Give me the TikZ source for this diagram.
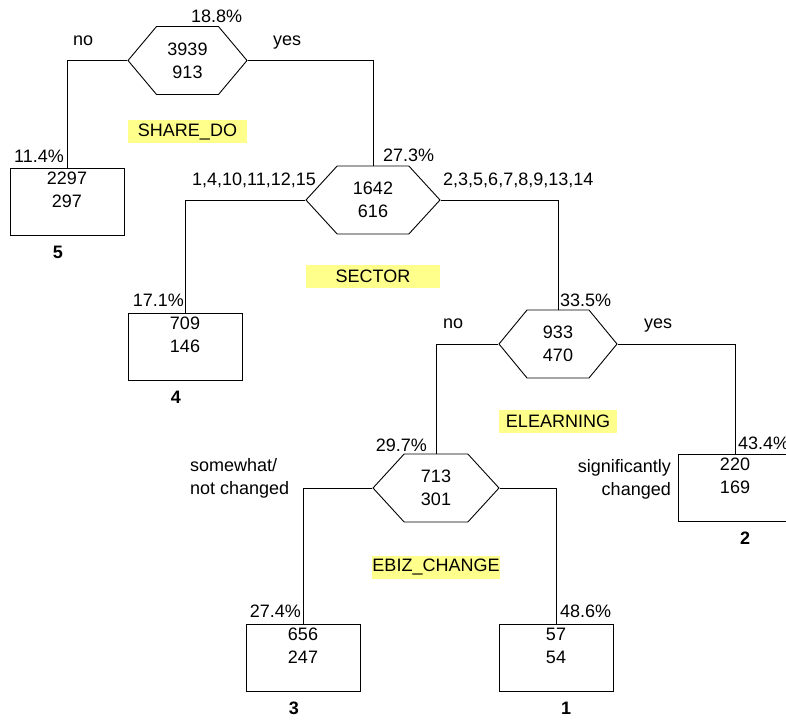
\documentclass[tikz,border=0pt]{standalone}
\usepackage{fontspec}
\setmainfont{Liberation Sans}
\usetikzlibrary{positioning,shapes.symbols}
\definecolor{varfill}{RGB}{255,255,140}

\begin{document}
\begin{tikzpicture}[
  x=1bp, y=-1bp,
  every node/.style={font=\fontsize{18bp}{23bp}\selectfont},
  split/.style={draw, signal, signal to=west and east, signal pointer angle=98, minimum height=68bp, inner sep=0pt, align=center, line width=0.9bp},
  leaf/.style={draw, rectangle, minimum width=114bp, minimum height=67bp, inner sep=0pt, align=center, line width=0.9bp},
  leafno/.style={font=\fontsize{18bp}{23bp}\selectfont\bfseries, inner sep=0pt},
  var/.style={fill=varfill, minimum height=23bp, inner sep=0pt},
  pct/.style={inner sep=0pt},
  branch/.style={inner sep=0pt},
  link/.style={line width=0.9bp}
]
\useasboundingbox (0,0) rectangle (786,720);

% splits
\node[split, minimum width=119bp, signal pointer angle=100] (share) at (187.5,60.5) {3939\\913};
\node[split, minimum width=134bp, signal pointer angle=95] (sector) at (373,200) {1642\\616};
\node[split, minimum width=118bp, signal pointer angle=101] (elearn) at (558,344) {933\\470};
\node[split, minimum width=126bp, signal pointer angle=95] (ebiz) at (436,488) {713\\301};

% split variables
\node[var, minimum width=119bp, below=25bp of share] (vshare) {SHARE\_DO};
\node[var, minimum width=134bp, below=30bp of sector] (vsector) {SECTOR};
\node[var, minimum width=118bp, below=31bp of elearn] (velearn) {ELEARNING};
\node[var, minimum width=126bp, below=33bp of ebiz] (vebiz) {EBIZ\_CHANGE};

% leaves
\node[leaf] (b5) at (67,201.5) {2297\\297\\\mbox{}};
\node[leaf] (b4) at (185,346.5) {709\\146\\\mbox{}};
\node[leaf] (b2) at (735,487.5) {220\\169\\\mbox{}};
\node[leaf] (b3) at (303,657.5) {656\\247\\\mbox{}};
\node[leaf] (b1) at (556,657.5) {57\\54\\\mbox{}};

\node[leafno, below=10bp of b5, xshift=-9bp] (n5) {5};
\node[leafno, below=10bp of b4, xshift=-9bp] (n4) {4};
\node[leafno, below=10bp of b2, xshift=10bp] (n2) {2};
\node[leafno, below=10bp of b3, xshift=-9bp] (n3) {3};
\node[leafno, below=10bp of b1, xshift=10bp] (n1) {1};

% connectors
\draw[link] (share.west) -| (b5.north);
\draw[link] (share.east) -| (sector.north);
\draw[link] (sector.west) -| (b4.north);
\draw[link] (sector.east) -| (elearn.north);
\draw[link] (elearn.west) -| (ebiz.north);
\draw[link] (elearn.east) -| (b2.north);
\draw[link] (ebiz.west) -| (b3.north);
\draw[link] (ebiz.east) -| (b1.north);

% percentages
\node[pct, anchor=base west] (pshare) at (191,23) {18.8\%};
\node[pct, anchor=base east] (p5) at (64,162) {11.4\%};
\node[pct, anchor=base west] (psector) at (383,161) {27.3\%};
\node[pct, anchor=base east] (p4) at (184,306) {17.1\%};
\node[pct, anchor=base west] (pelearn) at (560,306) {33.5\%};
\node[pct, anchor=base east] (pebiz) at (427,451) {29.7\%};
\node[pct, anchor=base west] (p2) at (738,449) {43.4\%};
\node[pct, anchor=base east] (p3) at (301,617) {27.4\%};
\node[pct, anchor=base west] (p1) at (560,617) {48.6\%};

% branch conditions
\node[branch, anchor=base west] (sno) at (73,46) {no};
\node[branch, anchor=base west] (syes) at (273,46) {yes};
\node[branch, anchor=base west] (sleft) at (192,185) {1,4,10,11,12,15};
\node[branch, anchor=base west] (sright) at (443,185) {2,3,5,6,7,8,9,13,14};
\node[branch, anchor=base west] (eno) at (443,328) {no};
\node[branch, anchor=base west] (eyes) at (644,328) {yes};
\node[branch, align=left, anchor=base west] (cleft) at (190,494) {somewhat/\\not changed};
\node[branch, align=right, anchor=base east] (cright) at (671,495) {significantly\\changed};

\end{tikzpicture}
\end{document}
